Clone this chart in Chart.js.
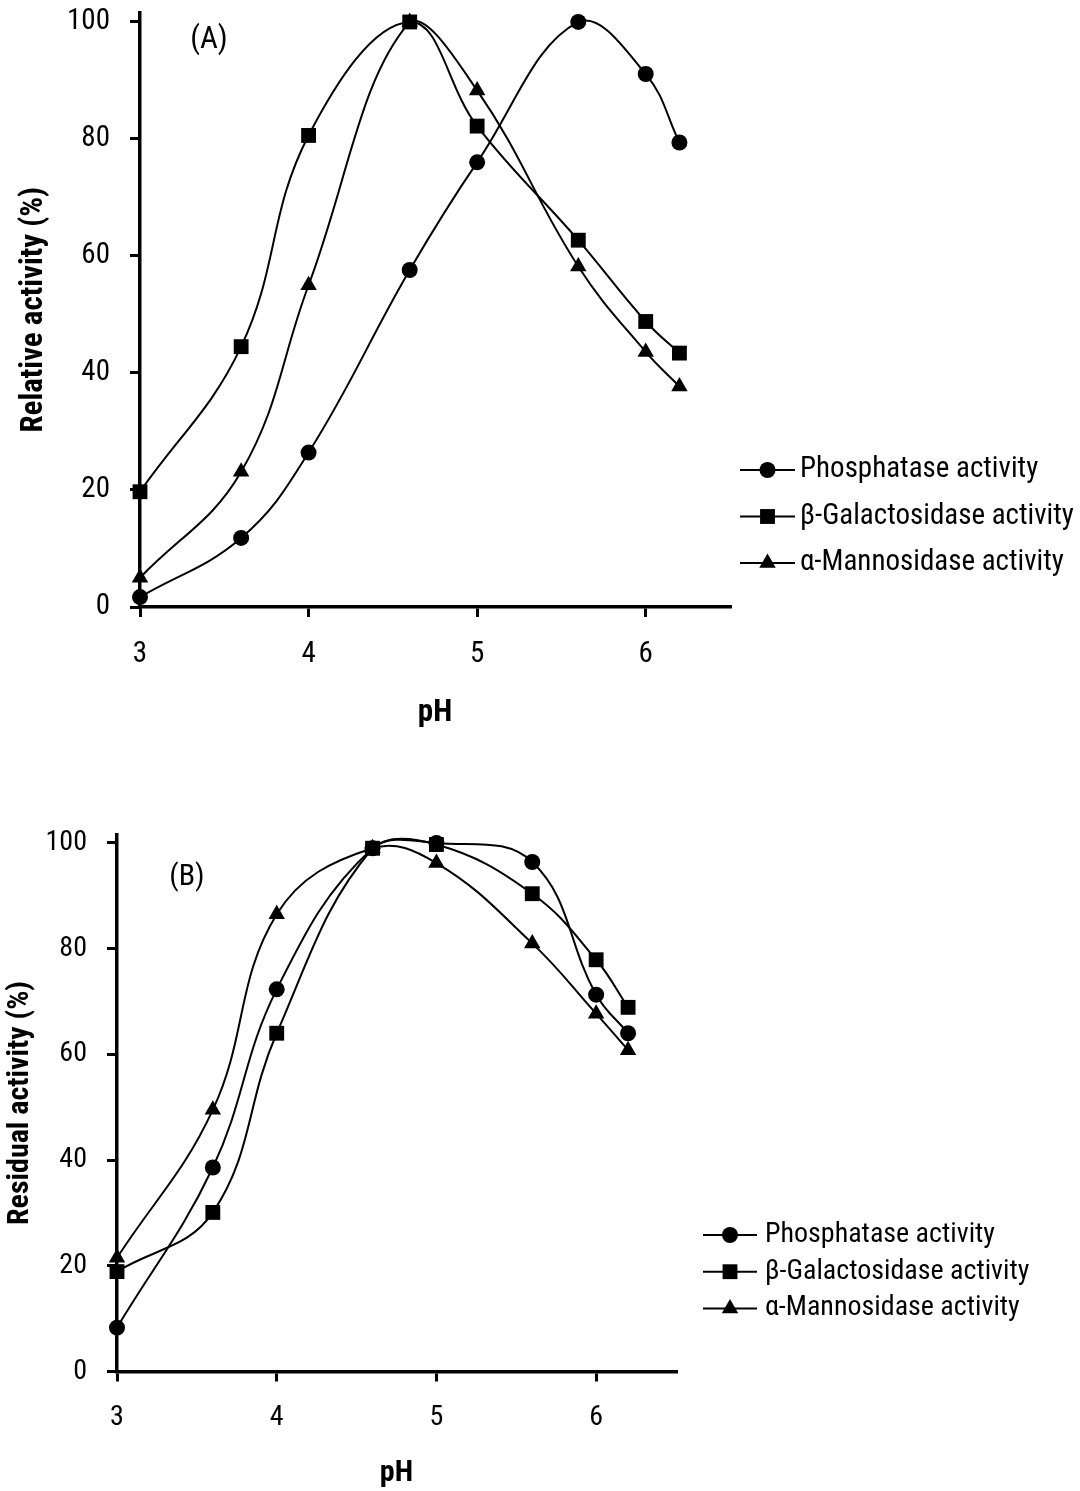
<!DOCTYPE html>
<html>
<head>
<meta charset="utf-8">
<script src="https://cdn.jsdelivr.net/npm/chart.js"></script>
<style>
  body { margin: 0; background: #fff; }
  canvas { display: block; }
</style>
</head>
<body>
<div style="width:1080px;height:770px"><canvas id="chartA"></canvas></div>
<div style="width:1080px;height:721px"><canvas id="chartB"></canvas></div>
<script>
const phValues = [3, 3.6, 4, 4.6, 5, 5.6, 6, 6.2];
const xTicks = [3, 4, 5, 6];
const yTicks = [0, 20, 40, 60, 80, 100];
const seriesNames = ['Phosphatase activity', 'β-Galactosidase activity', 'α-Mannosidase activity'];

// (A) relative activity
const phosA = [1.7, 11.8, 26.4, 57.6, 76, 100, 91.1, 79.4];
const galA = [19.7, 44.5, 80.6, 100, 82.2, 62.7, 48.8, 43.4];
const manA = [5, 23.1, 55, 100, 88.3, 58.2, 43.6, 37.7];

// (B) residual activity
const phosB = [8.3, 38.6, 72.3, 99, 100, 96.4, 71.3, 64];
const galB = [18.9, 30.1, 64, 99, 99.7, 90.4, 77.9, 68.9];
const manB = [21.5, 49.5, 86.5, 99, 96.2, 81, 67.7, 60.8];

const FONT = '"Roboto Condensed", Roboto, "Liberation Sans", sans-serif';
const markers = [
    { style: 'circle', radius: 8 },
    { style: 'rect', radius: 10.5 },
    { style: 'triangle', radius: 9.5 }
];

function toPoints(values) {
    return values.map((v, i) => ({ x: phValues[i], y: v }));
}

function drawMarker(ctx, style, r, x, y) {
    ctx.beginPath();
    if (style === 'circle') {
        ctx.arc(x, y, r, 0, Math.PI * 2);
    } else if (style === 'rect') {
        const s = Math.SQRT1_2 * r;
        ctx.rect(x - s, y - s, 2 * s, 2 * s);
    } else {
        ctx.moveTo(x, y - r);
        ctx.lineTo(x + r * 0.866, y + r * 0.5);
        ctx.lineTo(x - r * 0.866, y + r * 0.5);
        ctx.closePath();
    }
    ctx.fill();
}

// legend and panel letter drawn beside the plot
const sideText = {
    id: 'sideText',
    afterDraw(chart, args, o) {
        const ctx = chart.ctx;
        ctx.save();
        ctx.fillStyle = '#000';
        ctx.strokeStyle = '#000';
        ctx.textBaseline = 'middle';
        ctx.textAlign = 'center';
        ctx.font = o.letterSize + 'px ' + FONT;
        ctx.fillText(o.letter, o.letterX, o.letterY);
        ctx.font = o.fontSize + 'px ' + FONT;
        ctx.textAlign = 'left';
        chart.data.datasets.forEach((ds, i) => {
            const y = o.top + i * o.rowGap;
            ctx.lineWidth = 2;
            ctx.beginPath();
            ctx.moveTo(o.lineX1, y);
            ctx.lineTo(o.lineX2, y);
            ctx.stroke();
            drawMarker(ctx, ds.pointStyle, ds.pointRadius, (o.lineX1 + o.lineX2) / 2, y);
            ctx.fillText(ds.label, o.textX, y);
        });
        ctx.restore();
    }
};

function makeChart(id, data, cfg) {
    const datasets = data.map((values, i) => ({
        label: seriesNames[i],
        data: toPoints(values),
        borderColor: '#000',
        backgroundColor: '#000',
        borderWidth: 2,
        pointStyle: markers[i].style,
        pointRadius: markers[i].radius,
        pointHoverRadius: markers[i].radius,
        pointBorderWidth: 0,
        tension: 0.4,
        clip: false
    }));
    const axisBase = {
        border: { display: true, color: '#000', width: 3.5 },
        grid: { display: true, drawOnChartArea: false, drawTicks: true, tickLength: 10, color: '#000', lineWidth: 3 },
    };
    return new Chart(document.getElementById(id), {
        type: 'line',
        data: { datasets: datasets },
        options: {
            responsive: true,
            maintainAspectRatio: false,
            animation: false,
            events: [],
            layout: { padding: { left: 0, right: 1080 - cfg.right, top: cfg.top, bottom: 0 } },
            plugins: {
                legend: { display: false },
                tooltip: { enabled: false },
                sideText: cfg.side
            },
            scales: {
                x: {
                    ...axisBase,
                    type: 'linear',
                    min: 3,
                    max: 6.5,
                    afterFit: (s) => { s.height = cfg.xHeight; },
                    afterBuildTicks: (s) => { s.ticks = xTicks.map(v => ({ value: v })); },
                    ticks: { color: '#000', padding: 20, font: { family: FONT, size: cfg.fontSize } },
                    title: {
                        display: true, text: 'pH', color: '#000',
                        padding: { bottom: cfg.xTitlePad },
                        font: { family: FONT, size: cfg.titleSize, weight: 'bold' }
                    }
                },
                y: {
                    ...axisBase,
                    min: 0,
                    max: 101.6,
                    afterFit: (s) => { s.width = cfg.left; s.paddingTop = 0; s.paddingBottom = 0; },
                    afterBuildTicks: (s) => { s.ticks = yTicks.map(v => ({ value: v })); },
                    ticks: { color: '#000', padding: 20, font: { family: FONT, size: cfg.fontSize } },
                    title: {
                        display: true, text: cfg.yTitle, color: '#000',
                        padding: { top: cfg.yTitlePad },
                        font: { family: FONT, size: cfg.titleSize, weight: 'bold' }
                    }
                }
            }
        },
        plugins: [sideText]
    });
}

makeChart('chartA', [phosA, galA, manA], {
    left: 140, right: 730, top: 12.6, xHeight: 163, fontSize: 29, titleSize: 31,
    yTitle: 'Relative activity (%)', yTitlePad: 16, xTitlePad: 38,
    side: { fontSize: 29, letterSize: 31, letter: '(A)', letterX: 209, letterY: 40,
            lineX1: 740, lineX2: 795, textX: 800, top: 470, rowGap: 46.5 }
});

makeChart('chartB', [phosB, galB, manB], {
    left: 117, right: 676, top: 64.5, xHeight: 119.5, fontSize: 28, titleSize: 30,
    yTitle: 'Residual activity (%)', yTitlePad: 2, xTitlePad: 0,
    side: { fontSize: 28, letterSize: 30, letter: '(B)', letterX: 187, letterY: 107,
            lineX1: 703, lineX2: 757, textX: 765, top: 465, rowGap: 36.7 }
});
</script>
</body>
</html>
